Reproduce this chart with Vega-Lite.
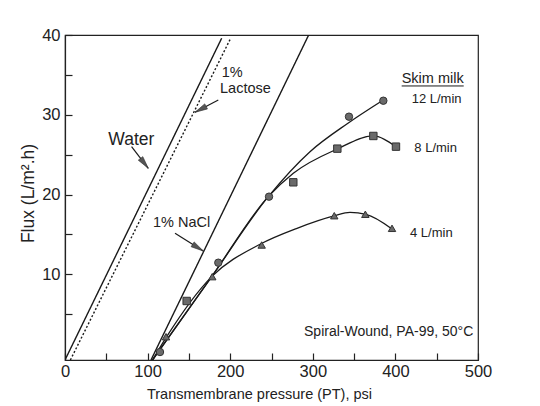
{
  "$schema": "https://vega.github.io/schema/vega-lite/v6.json",
  "width": 413,
  "height": 325,
  "autosize": {"type": "none"},
  "padding": {"left": 65, "top": 35, "right": 62, "bottom": 46},
  "background": "white",
  "config": {
    "view": {"stroke": "#222", "strokeWidth": 1.2},
    "font": "Liberation Sans",
    "axis": {
      "grid": false,
      "domainColor": "#222",
      "domainWidth": 1.2,
      "tickColor": "#222",
      "tickWidth": 1.2,
      "labelColor": "#222",
      "titleColor": "#222",
      "labelFont": "Liberation Sans",
      "titleFont": "Liberation Sans",
      "titleFontWeight": "normal",
      "labelOverlap": false,
      "labelFlush": false
    }
  },
  "datasets": {
    "lines": [
      {"series": "Water", "x": 0, "y": -0.75},
      {"series": "Water", "x": 189.7, "y": 39.6},
      {"series": "Lactose", "x": 6.5, "y": -0.75},
      {"series": "Lactose", "x": 200.6, "y": 39.6},
      {"series": "NaCl", "x": 104.1, "y": -0.75},
      {"series": "NaCl", "x": 295, "y": 40}
    ],
    "curves": [
      {"series": "12 L/min", "x": 106, "y": -0.75},
      {"series": "12 L/min", "x": 177.6, "y": 9.7},
      {"series": "12 L/min", "x": 246.1, "y": 19.73},
      {"series": "12 L/min", "x": 296.6, "y": 25.37},
      {"series": "12 L/min", "x": 343, "y": 28.97},
      {"series": "12 L/min", "x": 385.4, "y": 31.85},
      {"series": "8 L/min", "x": 106, "y": -0.75},
      {"series": "8 L/min", "x": 177.6, "y": 9.7},
      {"series": "8 L/min", "x": 246.1, "y": 19.73},
      {"series": "8 L/min", "x": 276.4, "y": 22.66},
      {"series": "8 L/min", "x": 329.7, "y": 25.71},
      {"series": "8 L/min", "x": 372.5, "y": 27.34},
      {"series": "8 L/min", "x": 400.7, "y": 26.0},
      {"series": "4 L/min", "x": 106, "y": -0.75},
      {"series": "4 L/min", "x": 123.1, "y": 2.17},
      {"series": "4 L/min", "x": 177.6, "y": 9.7},
      {"series": "4 L/min", "x": 236.1, "y": 13.76},
      {"series": "4 L/min", "x": 280.9, "y": 15.76},
      {"series": "4 L/min", "x": 325.7, "y": 17.31},
      {"series": "4 L/min", "x": 345, "y": 17.75},
      {"series": "4 L/min", "x": 364.4, "y": 17.52},
      {"series": "4 L/min", "x": 395.9, "y": 15.68}
    ],
    "points": [
      {"series": "12 L/min", "x": 115.0, "y": 0.25},
      {"series": "12 L/min", "x": 185.6, "y": 11.45},
      {"series": "12 L/min", "x": 247.0, "y": 19.73},
      {"series": "12 L/min", "x": 343.8, "y": 29.76},
      {"series": "12 L/min", "x": 385.4, "y": 31.76},
      {"series": "8 L/min", "x": 147.3, "y": 6.65},
      {"series": "8 L/min", "x": 276.4, "y": 21.53},
      {"series": "8 L/min", "x": 329.7, "y": 25.75},
      {"series": "8 L/min", "x": 373.3, "y": 27.34},
      {"series": "8 L/min", "x": 400.7, "y": 26.0},
      {"series": "4 L/min", "x": 122.3, "y": 2.17},
      {"series": "4 L/min", "x": 178.3, "y": 9.7},
      {"series": "4 L/min", "x": 238.1, "y": 13.67},
      {"series": "4 L/min", "x": 326.0, "y": 17.34},
      {"series": "4 L/min", "x": 363.6, "y": 17.52},
      {"series": "4 L/min", "x": 395.9, "y": 15.76}
    ],
    "arrows": [
      {"arrow": "Water", "x": 80.6, "y": 25.99, "x2": 100.8, "y2": 23.29},
      {"arrow": "Lactose", "x": 185.6, "y": 31.85, "x2": 157.4, "y2": 30.31},
      {"arrow": "NaCl", "x": 133.2, "y": 15.14, "x2": 167.4, "y2": 12.92}
    ],
    "heads": [
      {"arrow": "Water", "x": 100.8, "y": 23.29},
      {"arrow": "Lactose", "x": 157.4, "y": 30.31},
      {"arrow": "NaCl", "x": 167.4, "y": 12.92}
    ],
    "underline": [
      {"x": 407.6, "x2": 482.7, "y": 33.61}
    ],
    "notes": [
      {"text": "Water", "x": 52.4, "y": 26.21, "group": "water"},
      {"text": "1%", "x": 189.7, "y": 34.77, "group": "lines"},
      {"text": "Lactose", "x": 187.7, "y": 32.69, "group": "lines"},
      {"text": "1% NaCl", "x": 106.5, "y": 15.89, "group": "lines"},
      {"text": "Skim milk", "x": 407.6, "y": 33.95, "group": "lines"},
      {"text": "12 L/min", "x": 419.7, "y": 31.44, "group": "milk"},
      {"text": "8 L/min", "x": 422.9, "y": 25.37, "group": "milk"},
      {"text": "4 L/min", "x": 417.7, "y": 14.71, "group": "milk"},
      {"text": "Spiral-Wound, PA-99, 50°C", "x": 494.3, "y": 2.26, "group": "caption"}
    ]
  },
  "encoding": {
    "x": {
      "field": "x",
      "type": "quantitative",
      "scale": {"domain": [0, 500], "nice": false, "zero": false},
      "axis": {
        "title": "Transmembrane pressure (PT), psi",
        "values": [0, 50, 100, 150, 200, 250, 300, 350, 400, 450, 500],
        "labelExpr": "datum.value % 100 === 0 ? datum.label : ''",
        "tickSize": -7,
        "labelPadding": 10,
        "labelFontSize": 16.5,
        "titleFontSize": 14.5,
        "titleX": 194,
        "titleY": 27,
        "titleBaseline": "top"
      }
    },
    "y": {
      "field": "y",
      "type": "quantitative",
      "scale": {"domain": [-0.75, 40], "nice": false, "zero": false},
      "axis": {
        "title": "Flux (L/m².h)",
        "values": [5, 10, 15, 20, 25, 30, 35, 40],
        "labelExpr": "datum.value % 10 === 0 ? datum.label : ''",
        "tickSize": -7,
        "labelPadding": 12,
        "labelFontSize": 16.5,
        "titleFontSize": 17.5,
        "titleX": -28,
        "titleY": 158,
        "titleBaseline": "bottom"
      }
    }
  },
  "layer": [
    {
      "data": {"name": "lines"},
      "mark": {"type": "line", "color": "#1a1a1a", "strokeWidth": 1.4, "clip": true},
      "encoding": {
        "detail": {"field": "series", "type": "nominal"},
        "strokeDash": {
          "field": "series",
          "type": "nominal",
          "scale": {"domain": ["Water", "Lactose", "NaCl"], "range": [[1, 0], [2, 2], [1, 0]]},
          "legend": null
        }
      }
    },
    {
      "data": {"name": "curves"},
      "mark": {"type": "line", "color": "#1a1a1a", "strokeWidth": 1.3, "interpolate": "monotone", "clip": true},
      "encoding": {"detail": {"field": "series", "type": "nominal"}}
    },
    {
      "data": {"name": "points"},
      "mark": {"type": "point", "filled": true, "fill": "#6a6a6a", "stroke": "#333", "strokeWidth": 1, "opacity": 1, "size": 55},
      "encoding": {
        "shape": {
          "field": "series",
          "type": "nominal",
          "scale": {"domain": ["12 L/min", "8 L/min", "4 L/min"], "range": ["circle", "square", "triangle-up"]},
          "legend": null
        }
      }
    },
    {
      "data": {"name": "arrows"},
      "mark": {"type": "rule", "color": "#1a1a1a", "strokeWidth": 1.2},
      "encoding": {
        "x2": {"field": "x2"},
        "y2": {"field": "y2"}
      }
    },
    {
      "data": {"name": "heads"},
      "transform": [{"filter": "datum.arrow === 'Water'"}],
      "mark": {"type": "point", "shape": "M0,0L0.5,2.2L-0.5,2.2Z", "filled": true, "fill": "#555", "stroke": "#333", "strokeWidth": 0.6, "opacity": 1, "size": 130, "angle": 142}
    },
    {
      "data": {"name": "heads"},
      "transform": [{"filter": "datum.arrow === 'Lactose'"}],
      "mark": {"type": "point", "shape": "M0,0L0.5,2.2L-0.5,2.2Z", "filled": true, "fill": "#555", "stroke": "#333", "strokeWidth": 0.6, "opacity": 1, "size": 130, "angle": 242}
    },
    {
      "data": {"name": "heads"},
      "transform": [{"filter": "datum.arrow === 'NaCl'"}],
      "mark": {"type": "point", "shape": "M0,0L0.5,2.2L-0.5,2.2Z", "filled": true, "fill": "#555", "stroke": "#333", "strokeWidth": 0.6, "opacity": 1, "size": 130, "angle": 122}
    },
    {
      "data": {"name": "underline"},
      "mark": {"type": "rule", "color": "#1a1a1a", "strokeWidth": 1},
      "encoding": {"x2": {"field": "x2"}}
    },
    {
      "data": {"name": "notes"},
      "transform": [{"filter": "datum.group === 'water'"}],
      "mark": {"type": "text", "align": "left", "baseline": "alphabetic", "fontSize": 17.5, "color": "#222"},
      "encoding": {"text": {"field": "text"}}
    },
    {
      "data": {"name": "notes"},
      "transform": [{"filter": "datum.group === 'lines'"}],
      "mark": {"type": "text", "align": "left", "baseline": "alphabetic", "fontSize": 14.5, "color": "#222"},
      "encoding": {"text": {"field": "text"}}
    },
    {
      "data": {"name": "notes"},
      "transform": [{"filter": "datum.group === 'milk'"}],
      "mark": {"type": "text", "align": "left", "baseline": "alphabetic", "fontSize": 13, "color": "#222"},
      "encoding": {"text": {"field": "text"}}
    },
    {
      "data": {"name": "notes"},
      "transform": [{"filter": "datum.group === 'caption'"}],
      "mark": {"type": "text", "align": "right", "baseline": "alphabetic", "fontSize": 14, "color": "#222"},
      "encoding": {"text": {"field": "text"}}
    }
  ]
}
